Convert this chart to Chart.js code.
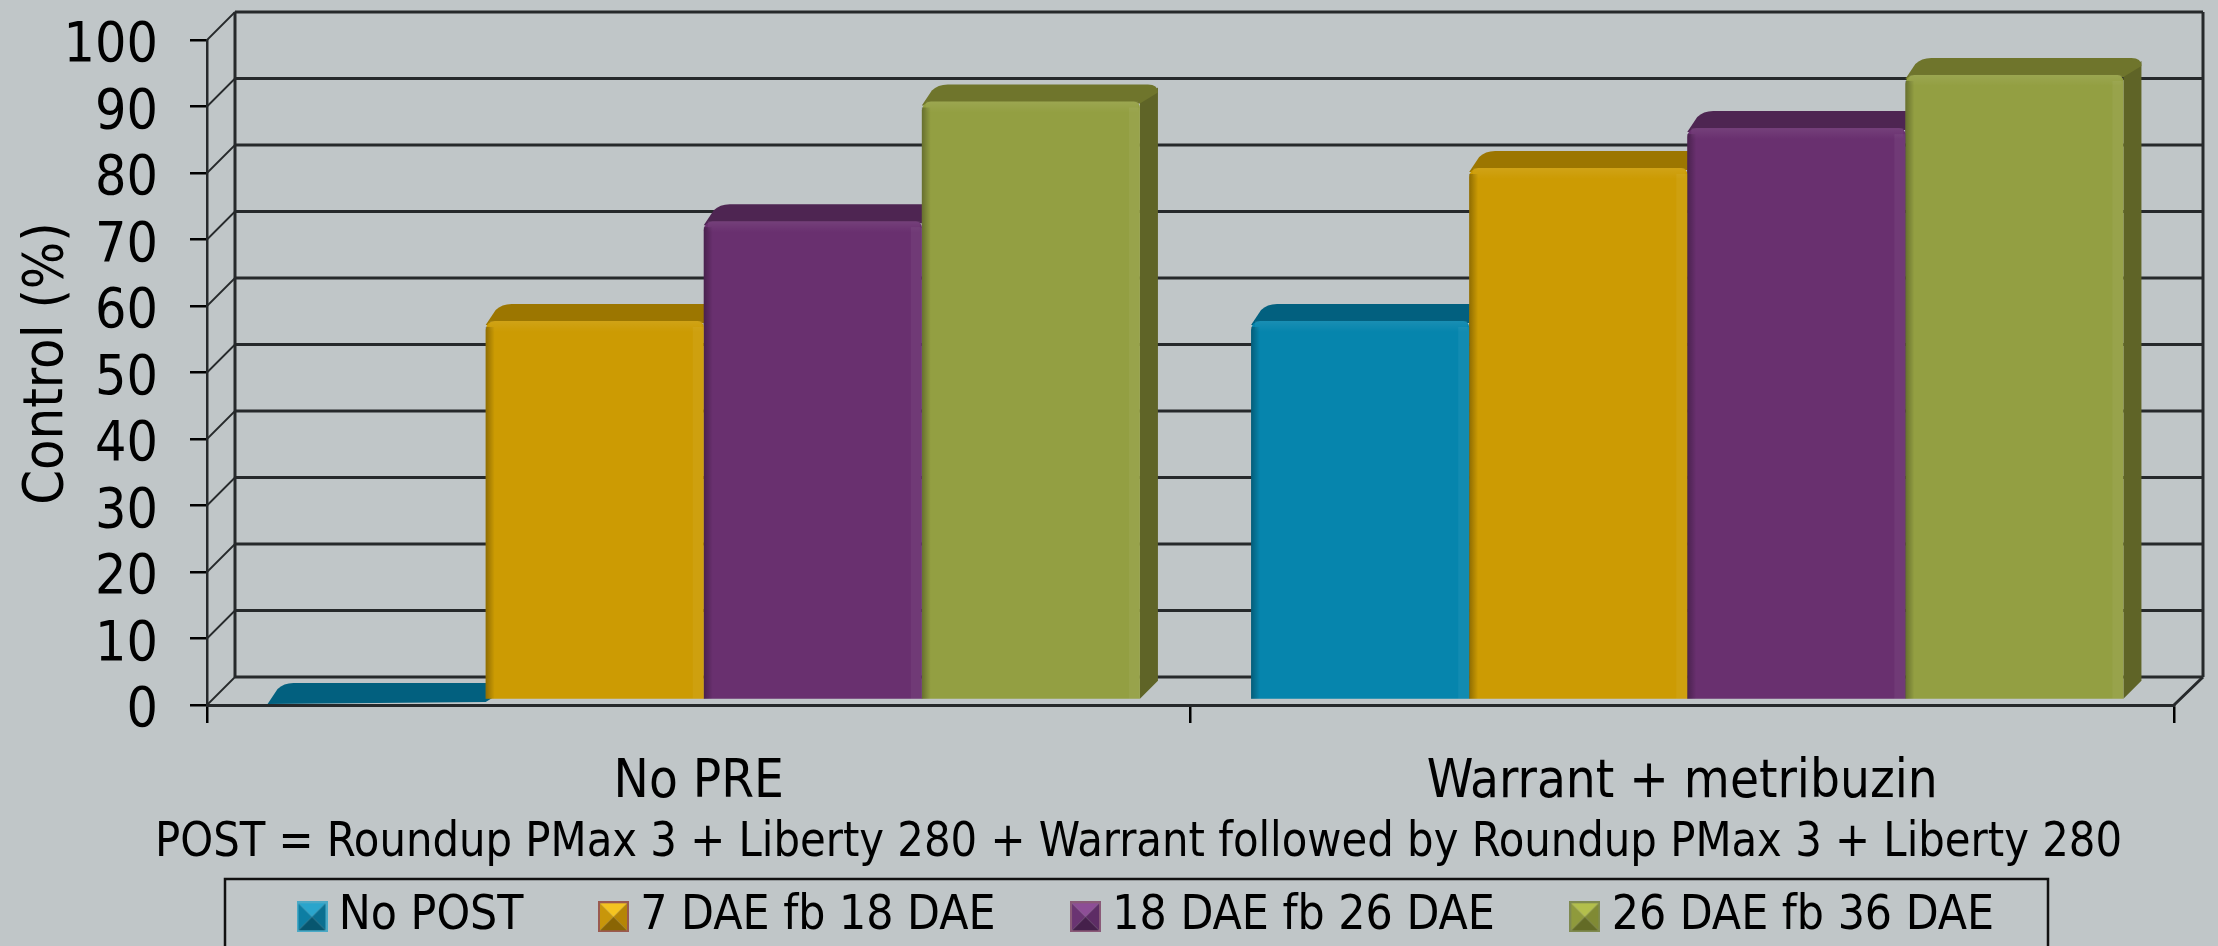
<!DOCTYPE html>
<html><head><meta charset="utf-8">
<style>html,body{margin:0;padding:0;background:#c0c6c8;overflow:hidden}canvas{display:block}</style>
<script src="https://cdn.jsdelivr.net/npm/chart.js@4"></script>
</head><body><canvas id="c" width="2218" height="946"></canvas>
<script>
const categories = ["No PRE", "Warrant + metribuzin"];
const seriesNames = ["No POST", "7 DAE fb 18 DAE", "18 DAE fb 26 DAE", "26 DAE fb 36 DAE"];
const noPost = [0, 57];
const dae7 = [57, 80];
const dae18 = [72, 86];
const dae26 = [90, 94];
const yTicks = [0,10,20,30,40,50,60,70,80,90,100];
const xTitle = "POST = Roundup PMax 3 + Liberty 280 + Warrant followed by Roundup PMax 3 + Liberty 280";
const yTitle = "Control (%)";

const frontColors = ["#0685ad", "#cc9b03", "#69306f", "#939f42"];
const topColors   = ["#02607f", "#9c7600", "#4e2552", "#6f752c"];
const sideColors  = ["#025570", "#8a6800", "#421f46", "#5f6427"];
const swatch = [
 ["#2aa5cc","#0d7ea3","#0b6f90","#07566f","#4aa9c6"],
 ["#f4c420","#c8960a","#b58506","#8a6504","#9a5a50"],
 ["#8d4e96","#6a3472","#5d2c65","#45204b","#8a5a78"],
 ["#b3bf4c","#8f9a3c","#808a34","#636b26","#7f8a50"]
];
const FONT = "'DejaVu Sans Condensed','DejaVu Sans',sans-serif";
const WALL = {dx:28, dy:28};
const BAR = {dx:18, dy:18, sx:5, sy:-5};
const LINE = "#26292b";
const LEGEND_PAD = 87;

function makeSwatch(c){
  const s=31, cv=document.createElement('canvas'); cv.width=s; cv.height=s;
  const g=cv.getContext('2d'), m=s/2;
  const tri=(p,col)=>{g.fillStyle=col;g.beginPath();g.moveTo(p[0],p[1]);g.lineTo(p[2],p[3]);g.lineTo(p[4],p[5]);g.closePath();g.fill();};
  tri([0,0,s,0,m,m],c[0]); tri([0,0,0,s,m,m],c[1]); tri([s,0,s,s,m,m],c[2]); tri([0,s,s,s,m,m],c[3]);
  g.strokeStyle=c[4]; g.lineWidth=2; g.strokeRect(1,1,s-2,s-2);
  return cv;
}
const swatches = swatch.map(makeSwatch);

function shiftDraw(scale,method,dx,dy){
  const flag='_shift_'+method;
  if(scale[flag]) return;
  scale[flag]=true;
  const d=scale[method];
  scale[method]=function(...a){const c=this.ctx;c.save();c.translate(dx,dy);d.apply(this,a);c.restore();};
}

const depth = {
  id:'depth',
  beforeLayout(chart){
    const l=chart.legend;
    if(l && !l._fitWrapped){
      const f=l.fit; l._fitWrapped=true;
      l.fit=function(){ f.call(this); this.height=68; };
    }
  },
  afterLayout(chart){
    const l=chart.legend;
    l.left = 309-LEGEND_PAD; l.top = 893-LEGEND_PAD;
    shiftDraw(chart.scales.x,'drawTitle',-52,5);
    shiftDraw(chart.scales.y,'drawTitle',0,-9);
    shiftDraw(chart.scales.y,'drawLabels',0,7);
  },
  beforeDraw(chart){
    const {ctx,chartArea:a,scales:{y}}=chart;
    ctx.save();
    ctx.strokeStyle=LINE; ctx.lineWidth=3;
    const y0=y.getPixelForValue(0), y1=y.getPixelForValue(100);
    ctx.beginPath();
    ctx.moveTo(a.left+WALL.dx,y1-WALL.dy); ctx.lineTo(a.left+WALL.dx,y0-WALL.dy);
    ctx.moveTo(a.right+WALL.dx+1,y1-WALL.dy); ctx.lineTo(a.right+WALL.dx+1,y0-WALL.dy);
    ctx.moveTo(a.right,y0); ctx.lineTo(a.right+WALL.dx+1,y0-WALL.dy);
    ctx.stroke();
    yTicks.forEach(v=>{
      const p=y.getPixelForValue(v);
      ctx.lineWidth=3; ctx.beginPath();
      ctx.moveTo(a.left+WALL.dx,p-WALL.dy); ctx.lineTo(a.right+WALL.dx+1,p-WALL.dy); ctx.stroke();
      ctx.lineWidth=1.8; ctx.beginPath();
      ctx.moveTo(a.left,p); ctx.lineTo(a.left+WALL.dx,p-WALL.dy); ctx.stroke();
    });
    ctx.restore();
  },
  beforeDatasetsDraw(chart){
    const ctx=chart.ctx;
    ctx.save();
    ctx.translate(BAR.sx,BAR.sy);
    chart.data.datasets.forEach((ds,i)=>{
      chart.getDatasetMeta(i).data.forEach(b=>{
        const l=b.x-b.width/2, r=b.x+b.width/2, t=b.y, base=b.base, {dx,dy}=BAR;
        if(base-t>0){
          ctx.fillStyle=sideColors[i];
          ctx.beginPath(); ctx.moveTo(r,t); ctx.lineTo(r+dx,t-dy+4); ctx.lineTo(r+dx,base-dy); ctx.lineTo(r,base); ctx.closePath(); ctx.fill();
        }
        ctx.fillStyle=topColors[i];
        ctx.beginPath(); ctx.moveTo(l,t+4);
        ctx.lineTo(l+dx-8,t-dy+7); ctx.quadraticCurveTo(l+dx-2,t-dy+1,l+dx+8,t-dy+1);
        ctx.lineTo(r+dx-10,t-dy+1); ctx.quadraticCurveTo(r+dx,t-dy+1,r+dx,t-dy+9);
        ctx.lineTo(r,t+2); ctx.closePath(); ctx.fill();
      });
    });
    ctx.restore();
    ctx.save();
    ctx.translate(BAR.sx,BAR.sy);
  },
  afterDatasetsDraw(chart){
    const ctx=chart.ctx;
    chart.data.datasets.forEach((ds,i)=>{
      chart.getDatasetMeta(i).data.forEach(b=>{
        const l=b.x-b.width/2, r=b.x+b.width/2, t=b.y, base=b.base;
        if(base-t<=0) return;
        let g=ctx.createLinearGradient(l,0,l+9,0);
        g.addColorStop(0,'rgba(0,0,0,0.30)'); g.addColorStop(1,'rgba(0,0,0,0)');
        ctx.fillStyle=g; ctx.fillRect(l,t+6,9,base-t-6);
        ctx.fillStyle='rgba(255,255,255,0.05)'; ctx.fillRect(r-11,t+6,11,base-t-6);
        g=ctx.createLinearGradient(0,t,0,t+11);
        g.addColorStop(0,'rgba(255,255,255,0.08)'); g.addColorStop(1,'rgba(255,255,255,0)');
        ctx.fillStyle=g; ctx.fillRect(l+4,t,b.width-6,11);
      });
    });
    ctx.restore();
  },
  afterDraw(chart){
    const ctx=chart.ctx;
    ctx.save(); ctx.strokeStyle='#111'; ctx.lineWidth=2.5;
    ctx.beginPath(); ctx.moveTo(225,948); ctx.lineTo(225,879); ctx.lineTo(2048,879); ctx.lineTo(2048,948); ctx.stroke();
    ctx.restore();
  }
};

const mk=(i,data)=>({label:seriesNames[i],data,backgroundColor:frontColors[i],clip:false,
  categoryPercentage:0.887,barPercentage:1,borderWidth:0,borderSkipped:'bottom',borderRadius:{topLeft:9,topRight:6,bottomLeft:0,bottomRight:0}});

new Chart(document.getElementById('c'),{
  type:'bar',
  data:{labels:categories,datasets:[mk(0,noPost),mk(1,dae7),mk(2,dae18),mk(3,dae26)]},
  plugins:[depth],
  options:{
    responsive:false,animation:false,
    layout:{autoPadding:false,padding:{top:40,right:44,bottom:0,left:0}},
    plugins:{
      tooltip:{enabled:false},
      legend:{position:'bottom',align:'start',
        labels:{color:'#000',font:{family:FONT,size:47.6},usePointStyle:true,boxWidth:6,boxHeight:33,padding:LEGEND_PAD,
          generateLabels(chart){return Chart.defaults.plugins.legend.labels.generateLabels(chart).map((it,i)=>({...it,pointStyle:swatches[i]}));}
        }}
    },
    scales:{
      x:{
        afterFit(s){s.height=173;},
        grid:{display:true,offset:true,drawOnChartArea:false,drawTicks:true,tickLength:18,color:'#000',lineWidth:2.5},
        border:{color:LINE,width:3},
        ticks:{color:'#000',font:{family:FONT,size:52.5},padding:29,maxRotation:0},
        title:{display:true,text:xTitle,color:'#000',font:{family:FONT,size:48.6},padding:{top:0,bottom:10}}
      },
      y:{
        min:0,max:100,
        afterFit(s){s.width=207;s.paddingTop=0;s.paddingBottom=0;},
        afterBuildTicks(s){s.ticks=yTicks.map(v=>({value:v}));},
        grid:{drawOnChartArea:false,drawTicks:true,tickLength:17,color:'#000',lineWidth:2.5},
        border:{color:LINE,width:2.5},
        ticks:{color:'#000',font:{family:FONT,size:55},padding:32,autoSkip:false},
        title:{display:true,text:yTitle,color:'#000',font:{family:FONT,size:55.5},padding:{top:14,bottom:0}}
      }
    }
  }
});
</script></body></html>
